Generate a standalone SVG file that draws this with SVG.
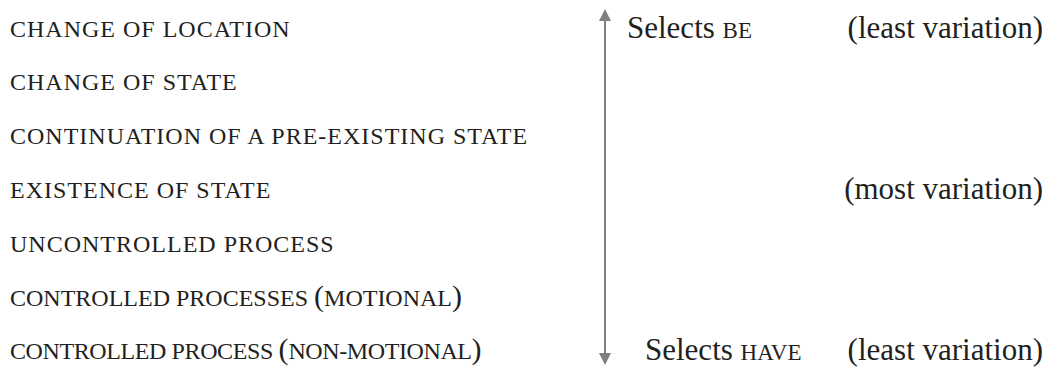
<svg xmlns="http://www.w3.org/2000/svg" width="1053" height="372" viewBox="0 0 1053 372">
<style>
text{font-family:"Liberation Serif","Times New Roman",serif;fill:#231f20}
.l{font-size:24px;letter-spacing:1px}
.t{letter-spacing:0}
.u{letter-spacing:-0.4px}
.p{font-size:30px;letter-spacing:0}
.r{font-size:31px}
.sc{font-size:23px}
</style>
<defs>
<marker id="ah" viewBox="0 0 12 12" refX="1" refY="6" markerWidth="12" markerHeight="12" orient="auto-start-reverse" markerUnits="userSpaceOnUse">
<path d="M0,0 L12,6 L0,12 z" fill="#7f7f7f"/>
</marker>
</defs>
<rect width="1053" height="372" fill="#fff"/>
<g id="rows">
<g id="n1"><text class="l" x="10" y="37">CHANGE OF LOCATION</text></g>
<g id="n2"><text class="l" x="10" y="90">CHANGE OF STATE</text></g>
<g id="n3"><text class="l" x="10" y="144">CONTINUATION OF A PRE-EXISTING STATE</text></g>
<g id="n4"><text class="l" x="10" y="198">EXISTENCE OF STATE</text></g>
<g id="n5"><text class="l" x="10" y="252">UNCONTROLLED PROCESS</text></g>
<g id="n6"><text class="l t" x="10" y="306">CONTROLLED PROCESSES <tspan class="p">(</tspan>MOTIONAL<tspan class="p">)</tspan></text></g>
<g id="n7"><text class="l u" x="10" y="359">CONTROLLED PROCESS <tspan class="p">(</tspan>NON-MOTIONAL<tspan class="p">)</tspan></text></g>
</g>
<g id="connectors">
<line x1="605" y1="20" x2="605" y2="354" stroke="#7f7f7f" stroke-width="2" marker-start="url(#ah)" marker-end="url(#ah)"/>
</g>
<g id="labels">
<g id="be"><text class="r" x="627" y="38">Selects <tspan class="sc">BE</tspan></text></g>
<g id="lv1"><text class="r" x="1043" y="38" text-anchor="end">(least variation)</text></g>
<g id="mv"><text class="r" x="1043" y="199" text-anchor="end">(most variation)</text></g>
<g id="have"><text class="r" x="645" y="360">Selects <tspan class="sc">HAVE</tspan></text></g>
<g id="lv2"><text class="r" x="1043" y="360" text-anchor="end">(least variation)</text></g>
</g>
</svg>
